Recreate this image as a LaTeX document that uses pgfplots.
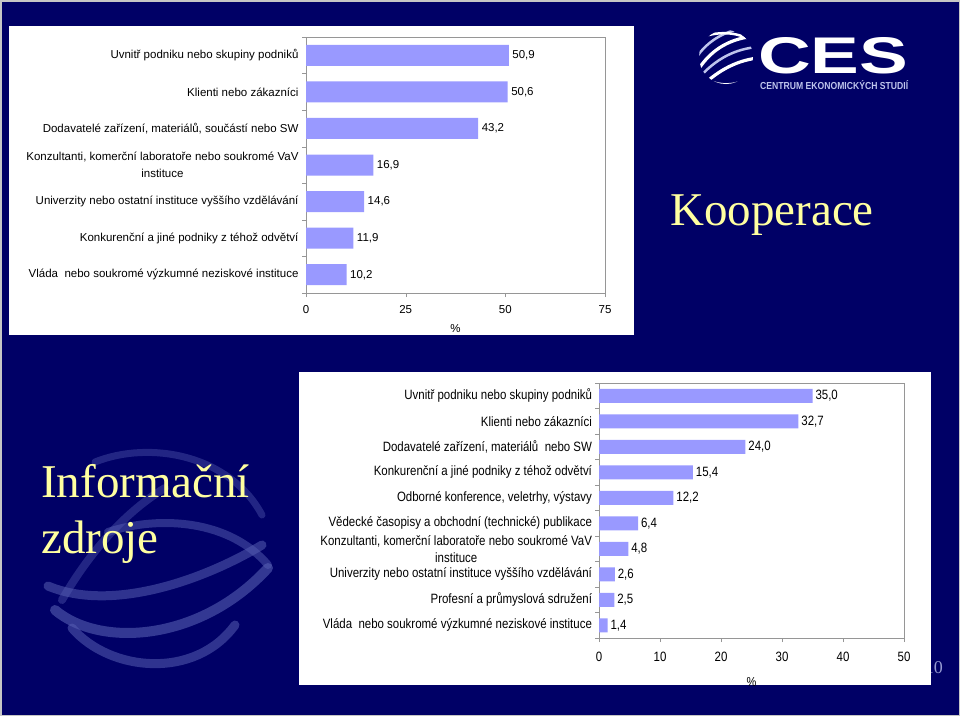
\documentclass[border=0pt]{standalone}
\usepackage{pgfplots}
\pgfplotsset{compat=1.18}
\usepackage{fontspec}
\setmainfont{Liberation Sans}
\newfontfamily\serif{Liberation Serif}
\definecolor{navy}{RGB}{0,0,102}
\definecolor{barblue}{RGB}{153,153,255}
\definecolor{titleyellow}{RGB}{255,255,160}
\definecolor{swoosh}{RGB}{86,94,178}
\definecolor{lightnum}{RGB}{150,155,210}
\definecolor{logoblue}{RGB}{190,196,236}
\definecolor{framegray}{RGB}{150,150,150}

\pgfplotstableread{
v i l
50.9 0 50,9
50.6 1 50,6
43.2 2 43,2
16.9 3 16,9
14.6 4 14,6
11.9 5 11,9
10.2 6 10,2
}\koop

\pgfplotstableread{
v i l
35.0 0 35,0
32.7 1 32,7
24.0 2 24,0
15.4 3 15,4
12.2 4 12,2
6.4 5 6,4
4.8 6 4,8
2.6 7 2,6
2.5 8 2,5
1.4 9 1,4
}\zdroje

\begin{document}
\begin{tikzpicture}
\begin{scope}[x=1pt,y=-1pt]
\useasboundingbox (0,0) rectangle (960,716);
\fill[navy] (0,0) rectangle (960,716);
\draw[gray!45, line width=1.5pt] (0.75,0.75) rectangle (959.25,715.25);
% decorative swooshes lower left
\begin{scope}[swoosh, line cap=round]
\draw[line width=7pt, opacity=0.4] (95,462) .. controls (150,440) and (230,455) .. (262,515);
\draw[line width=8pt, opacity=0.5] (108,532) .. controls (160,515) and (230,520) .. (268,565);
\draw[line width=8pt, opacity=0.4] (62,600) .. controls (85,560) and (120,515) .. (165,488);
\draw[line width=9pt, opacity=0.55] (48,586) .. controls (110,612) and (200,582) .. (262,545);
\draw[line width=10pt, opacity=0.6] (55,610) .. controls (100,648) and (200,642) .. (268,568);
\draw[line width=9pt, opacity=0.55] (72,628) .. controls (110,672) and (195,680) .. (235,625);
\end{scope}
% page number
\node[anchor=base east, inner sep=0, font=\serif\fontsize{18}{20}\selectfont, text=lightnum] at (943,673) {10};
% panels
\fill[white] (9,26) rectangle (634,335);
\fill[white] (299,372) rectangle (931,685);
% titles
\node[anchor=base west, inner sep=0, font=\serif\fontsize{47}{52}\selectfont, text=titleyellow] at (670,225) {Kooperace};
\node[anchor=base west, inner sep=0, font=\serif\fontsize{47}{52}\selectfont, text=titleyellow] at (41,497) {Informační};
\node[anchor=base west, inner sep=0, font=\serif\fontsize{47}{52}\selectfont, text=titleyellow] at (41,553) {zdroje};
% logo
\begin{scope}
\clip (726,57) circle (27);
\draw[white, line width=3.2pt] (698,70) .. controls (712,48) and (732,38) .. (756,36);
\draw[logoblue, line width=2.5pt] (698,79) .. controls (716,58) and (736,49) .. (757,47);
\draw[white, line width=3.2pt] (700,88) .. controls (720,68) and (740,60) .. (758,58);
\draw[logoblue, line width=2.5pt] (696,58) .. controls (708,40) and (726,30) .. (750,27);
\draw[white, line width=2.5pt] (705,36) .. controls (725,30) and (745,34) .. (755,44);
\draw[white, line width=2.5pt] (697,72) .. controls (710,86) and (735,90) .. (754,74);
\end{scope}
\node[anchor=south west, inner sep=0, text=white] at (758,74) {\resizebox{150pt}{36pt}{\bfseries CES}};
\node[anchor=south west, inner sep=0, text=logoblue] at (760,90) {\resizebox{148pt}{9pt}{\bfseries CENTRUM EKONOMICKÝCH STUDIÍ}};
\end{scope}

% ---------- top chart: Kooperace ----------
\begin{axis}[
  at={(306pt,-293pt)}, anchor=south west,
  scale only axis, width=299pt, height=256pt,
  xbar, bar width=21pt,
  xmin=0, xmax=75, xtick={0,25,50,75},
  ymin=-0.5, ymax=6.5, y dir=reverse,
  ytick={0,...,6},
  yticklabels={{Uvnitř podniku nebo skupiny podniků},{Klienti nebo zákazníci},{Dodavatelé zařízení, materiálů, součástí nebo SW},{Konzultanti, komerční laboratoře nebo soukromé VaV\\instituce},{Univerzity nebo ostatní instituce vyššího vzdělávání},{Konkurenční a jiné podniky z téhož odvětví},{Vláda\ \ nebo soukromé výzkumné neziskové instituce}},
  minor ytick={-0.5,0.5,...,6.5},
  every major y tick/.append style={draw=none},
  tick align=outside, tick pos=left,
  major tick length=4pt, minor tick length=4pt,
  axis line style={draw=framegray},
  tick style={framegray},
  /pgf/number format/assume math mode=true,
  tick label style={font=\fontsize{11.5}{17.5}\selectfont, text=black},
  yticklabel style={align=center},
  xticklabel style={yshift=-5pt},
  xlabel={\%}, xlabel style={font=\fontsize{11.5}{13}\selectfont, yshift=-4pt},
  nodes near coords, point meta=explicit symbolic,
  nodes near coords align={horizontal},
  every node near coord/.append style={font=\fontsize{11.5}{13}\selectfont, text=black, anchor=west},
  clip=false,
]
\addplot[fill=barblue, draw=none] table[x=v, y=i, meta=l] {\koop};
\end{axis}

% ---------- bottom chart: Informacni zdroje ----------
\begin{axis}[
  at={(599pt,-638pt)}, anchor=south west,
  scale only axis, width=305pt, height=255pt,
  xbar, bar width=14pt,
  xmin=0, xmax=50, xtick={0,10,...,50},
  ymin=-0.5, ymax=9.5, y dir=reverse,
  ytick={0,...,9},
  yticklabels={{Uvnitř podniku nebo skupiny podniků},{Klienti nebo zákazníci},{Dodavatelé zařízení, materiálů\ \ nebo SW},{Konkurenční a jiné podniky z téhož odvětví},{Odborné konference, veletrhy, výstavy},{Vědecké časopisy a obchodní (technické) publikace},{Konzultanti, komerční laboratoře nebo soukromé VaV\\instituce},{Univerzity nebo ostatní instituce vyššího vzdělávání},{Profesní a průmyslová sdružení},{Vláda\ \ nebo soukromé výzkumné neziskové instituce}},
  minor ytick={-0.5,0.5,...,9.5},
  every major y tick/.append style={draw=none},
  tick align=outside, tick pos=left,
  major tick length=4pt, minor tick length=4pt,
  axis line style={draw=framegray},
  tick style={framegray},
  /pgf/number format/assume math mode=true,
  tick label style={font=\fontsize{13.5}{17}\selectfont, text=black, xscale=0.85},
  yticklabel style={align=center},
  xticklabel style={yshift=-7pt},
  xlabel={\%}, xlabel style={font=\fontsize{13}{14}\selectfont, xscale=0.85, yshift=-9pt},
  nodes near coords, point meta=explicit symbolic,
  nodes near coords align={horizontal},
  every node near coord/.append style={font=\fontsize{13.5}{15}\selectfont, text=black, xscale=0.85, anchor=west},
  clip=false,
]
\addplot[fill=barblue, draw=none] table[x=v, y=i, meta=l] {\zdroje};
\end{axis}
\end{tikzpicture}
\end{document}
